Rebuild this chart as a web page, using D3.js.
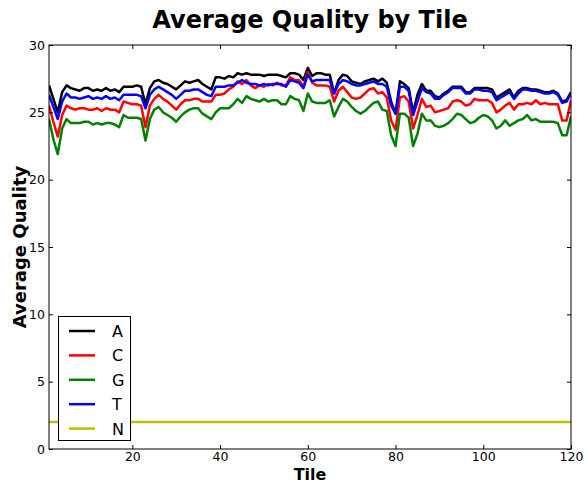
<!DOCTYPE html>
<html>
<head>
<meta charset="utf-8">
<script src="https://cdn.jsdelivr.net/npm/d3@7"></script>
<style>
  body { margin: 0; background: #fff; }
  svg { display: block; font-family: "DejaVu Sans", sans-serif; }
</style>
</head>
<body>
<svg id="chart" width="587" height="484"></svg>
<script>
// ---- data ----
const seriesNames = ["A", "C", "G", "T", "N"];
const seriesColors = ["#000000", "#ff0000", "#008000", "#0000ff", "#bfbf00"];
const xTicks = [20, 40, 60, 80, 100, 120];
const yTicks = [0, 5, 10, 15, 20, 25, 30];

const valuesA = [
  27.0, 26.0, 25.0, 26.5, 27.0, 26.8, 26.7, 26.6, 26.8, 26.8,
  26.6, 26.7, 26.6, 26.8, 26.6, 26.7, 26.5, 26.9, 26.9, 26.9,
  27.0, 26.9, 25.6, 26.8, 27.3, 27.4, 27.2, 27.1, 26.9, 26.7,
  27.0, 27.3, 27.2, 27.3, 27.4, 27.1, 26.9, 26.7, 27.6, 27.6,
  27.5, 27.7, 27.6, 27.9, 27.8, 27.9, 27.8, 27.8, 27.8, 27.7,
  27.8, 27.8, 27.8, 27.7, 27.6, 27.9, 27.9, 27.8, 27.4, 28.3,
  27.7, 27.9, 27.9, 27.8, 27.8, 26.4, 27.4, 27.8, 27.7, 27.3,
  27.2, 27.1, 27.3, 27.4, 27.5, 27.3, 27.5, 27.2, 25.8, 24.9,
  27.3, 27.1, 26.8, 25.0, 26.3, 27.1, 26.6, 26.6, 26.2, 26.1,
  26.4, 26.6, 26.9, 26.9, 26.9, 26.5, 26.5, 26.8, 26.8, 26.8,
  26.8, 26.7, 26.1, 26.3, 26.5, 26.7, 26.1, 26.6, 26.8, 26.8,
  26.7, 26.7, 26.6, 26.5, 26.5, 26.6, 26.4, 25.8, 25.9, 26.5
];
const valuesC = [
  25.5, 24.3, 23.2, 24.8, 25.5, 25.3, 25.2, 25.3, 25.3, 25.2,
  25.2, 25.3, 25.1, 25.3, 25.2, 25.2, 25.0, 25.8, 25.7, 25.6,
  25.6, 25.5, 23.9, 25.5, 26.0, 26.3, 26.0, 25.8, 25.5, 25.2,
  25.6, 25.9, 25.9, 26.0, 26.0, 25.8, 25.8, 25.8, 26.3, 26.3,
  26.4, 26.7, 26.9, 27.3, 27.1, 27.4, 27.0, 26.8, 27.0, 26.9,
  27.1, 27.0, 27.2, 27.0, 27.0, 27.6, 27.4, 27.4, 26.9, 28.0,
  27.2, 27.0, 27.0, 27.0, 26.9, 25.8, 26.6, 26.9, 26.5, 26.1,
  26.0, 26.1, 26.4, 26.7, 26.8, 26.4, 26.5, 26.1, 24.4, 23.7,
  26.1, 26.2, 25.8, 23.8, 24.8, 26.0, 25.4, 25.5, 25.0, 25.1,
  25.2, 25.3, 25.8, 25.9, 25.8, 25.5, 25.6, 26.0, 25.9, 25.9,
  25.9, 25.7, 25.0, 25.2, 25.5, 25.7, 25.2, 25.6, 25.6, 25.7,
  25.6, 25.9, 25.6, 25.7, 25.6, 25.6, 25.6, 24.4, 24.4, 25.9
];
const valuesG = [
  24.5, 23.0, 21.9, 23.8, 24.5, 24.2, 24.2, 24.2, 24.3, 24.3,
  24.1, 24.2, 24.1, 24.2, 24.2, 24.1, 23.9, 24.8, 24.6, 24.6,
  24.6, 24.5, 22.9, 24.5, 25.2, 25.4, 25.0, 24.8, 24.6, 24.3,
  24.7, 25.0, 25.2, 25.3, 25.3, 24.9, 24.7, 24.5, 25.0, 25.3,
  25.3, 25.3, 25.6, 26.0, 25.7, 26.2, 26.0, 25.9, 25.8, 26.0,
  25.8, 25.9, 25.9, 25.6, 25.6, 26.2, 26.0, 25.9, 25.1, 26.4,
  25.8, 25.7, 25.7, 25.7, 25.9, 24.7, 25.4, 26.0, 25.8, 25.4,
  25.1, 24.9, 25.1, 25.4, 25.7, 25.8, 25.2, 25.1, 23.3, 22.5,
  24.9, 24.9, 24.6, 22.5, 23.4, 24.9, 24.4, 24.4, 24.0, 23.9,
  24.0, 24.2, 24.5, 24.9, 24.8, 24.5, 24.2, 24.3, 24.6, 24.8,
  24.7, 24.4, 23.8, 24.0, 24.4, 24.0, 24.2, 24.4, 24.5, 24.8,
  24.4, 24.5, 24.3, 24.3, 24.3, 24.3, 24.2, 23.3, 23.3, 24.7
];
const valuesT = [
  26.3, 25.4, 24.5, 25.8, 26.4, 26.1, 26.1, 26.0, 26.1, 26.2,
  26.0, 26.1, 26.0, 26.2, 26.0, 26.1, 25.9, 26.3, 26.3, 26.3,
  26.3, 26.2, 25.3, 26.3, 26.7, 26.9, 26.7, 26.5, 26.3, 26.0,
  26.3, 26.6, 26.6, 26.7, 26.7, 26.5, 26.3, 26.2, 26.9, 26.9,
  26.9, 27.0, 27.0, 27.2, 27.4, 27.2, 27.1, 27.1, 27.0, 27.1,
  27.0, 27.1, 27.1, 27.1, 26.9, 27.4, 27.3, 27.2, 26.8, 27.8,
  27.3, 27.4, 27.4, 27.4, 27.4, 26.4, 27.1, 27.4, 27.3, 27.1,
  27.0, 27.0, 27.1, 27.2, 27.3, 27.1, 27.1, 26.9, 25.5, 24.9,
  26.9, 26.9, 26.6, 24.8, 25.8, 26.8, 26.5, 26.4, 26.0, 26.0,
  26.3, 26.5, 26.8, 26.8, 26.8, 26.4, 26.4, 26.7, 26.7, 26.6,
  26.6, 26.5, 25.9, 26.1, 26.3, 26.5, 26.0, 26.4, 26.7, 26.7,
  26.6, 26.6, 26.5, 26.4, 26.4, 26.5, 26.3, 25.7, 25.8, 26.4
];
const valuesN = [
  2, 2, 2, 2, 2, 2, 2, 2, 2, 2, 2, 2, 2, 2, 2, 2, 2, 2, 2, 2,
  2, 2, 2, 2, 2, 2, 2, 2, 2, 2, 2, 2, 2, 2, 2, 2, 2, 2, 2, 2,
  2, 2, 2, 2, 2, 2, 2, 2, 2, 2, 2, 2, 2, 2, 2, 2, 2, 2, 2, 2,
  2, 2, 2, 2, 2, 2, 2, 2, 2, 2, 2, 2, 2, 2, 2, 2, 2, 2, 2, 2,
  2, 2, 2, 2, 2, 2, 2, 2, 2, 2, 2, 2, 2, 2, 2, 2, 2, 2, 2, 2,
  2, 2, 2, 2, 2, 2, 2, 2, 2, 2, 2, 2, 2, 2, 2, 2, 2, 2, 2, 2
];
const seriesValues = [valuesA, valuesC, valuesG, valuesT, valuesN];

// ---- layout ----
const svg = d3.select("#chart");
const mLeft = 49, mRight = 571, mTop = 45, mBottom = 449;

const x = d3.scaleLinear().domain([1, 120]).range([mLeft, mRight]);
const y = d3.scaleLinear().domain([0, 30]).range([mBottom, mTop]);

const tileX = i => x(i + 1);

// clip
svg.append("defs").append("clipPath").attr("id", "clip")
  .append("rect").attr("x", mLeft).attr("y", mTop)
  .attr("width", mRight - mLeft).attr("height", mBottom - mTop);

// lines
const line = d3.line().x((d, i) => tileX(i)).y(d => y(d));
const plot = svg.append("g").attr("clip-path", "url(#clip)");
seriesValues.forEach((vals, k) => {
  plot.append("path")
    .datum(vals)
    .attr("fill", "none")
    .attr("stroke", seriesColors[k])
    .attr("stroke-width", 2.5)
    .attr("stroke-linejoin", "round")
    .attr("d", line);
});

// axes (matplotlib-like: inward ticks on all sides)
const axB = svg.append("g").attr("transform", `translate(0,${mBottom})`)
  .call(d3.axisBottom(x).tickValues(xTicks).tickSizeInner(-4).tickSizeOuter(0).tickPadding(3));
const axT = svg.append("g").attr("transform", `translate(0,${mTop})`)
  .call(d3.axisTop(x).tickValues(xTicks).tickSizeInner(-4).tickSizeOuter(0).tickFormat(""));
const axL = svg.append("g").attr("transform", `translate(${mLeft},0)`)
  .call(d3.axisLeft(y).tickValues(yTicks).tickSizeInner(-4).tickSizeOuter(0).tickPadding(4));
const axR = svg.append("g").attr("transform", `translate(${mRight},0)`)
  .call(d3.axisRight(y).tickValues(yTicks).tickSizeInner(-4).tickSizeOuter(0).tickFormat(""));

[axB, axT, axL, axR].forEach(a => {
  a.select(".domain").remove();
  a.selectAll(".tick line").attr("stroke", "#000").attr("stroke-width", 1);
  a.selectAll(".tick text").attr("font-family", "DejaVu Sans").attr("font-size", 12.5).attr("fill", "#000");
});

// frame
svg.append("rect").attr("x", mLeft).attr("y", mTop)
  .attr("width", mRight - mLeft).attr("height", mBottom - mTop)
  .attr("fill", "none").attr("stroke", "#000").attr("stroke-width", 1);

// titles
svg.append("text").attr("x", (mLeft + mRight) / 2).attr("y", 28)
  .attr("text-anchor", "middle").attr("font-weight", "bold").attr("font-size", 24)
  .text("Average Quality by Tile");
svg.append("text").attr("x", (mLeft + mRight) / 2).attr("y", 480)
  .attr("text-anchor", "middle").attr("font-weight", "bold").attr("font-size", 16)
  .text("Tile");
svg.append("text").attr("transform", `translate(26,${(mTop + mBottom) / 2}) rotate(-90)`)
  .attr("text-anchor", "middle").attr("font-weight", "bold").attr("font-size", 18)
  .text("Average Quality");

// legend
const lg = svg.append("g");
lg.append("rect").attr("x", 58.5).attr("y", 316.5).attr("width", 72).attr("height", 124)
  .attr("fill", "#fff").attr("stroke", "#000").attr("stroke-width", 1);
seriesNames.forEach((name, k) => {
  const yy = 331 + k * 24.4;
  lg.append("line").attr("x1", 69).attr("x2", 95).attr("y1", yy).attr("y2", yy)
    .attr("stroke", seriesColors[k]).attr("stroke-width", 2.5);
  lg.append("text").attr("x", 112).attr("y", yy + 6).attr("font-size", 16).text(name);
});
</script>
</body>
</html>
